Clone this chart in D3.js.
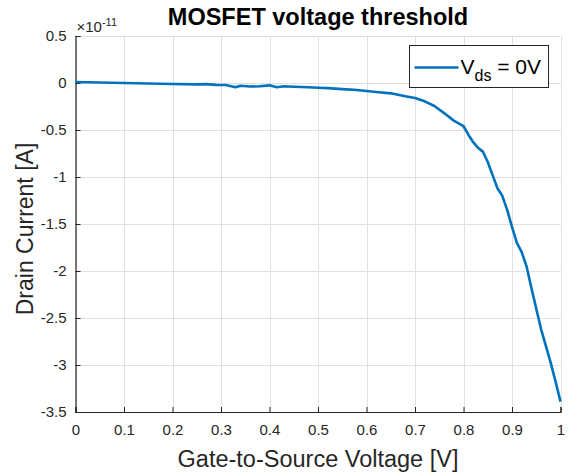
<!DOCTYPE html>
<html>
<head>
<meta charset="utf-8">
<script src="https://cdn.jsdelivr.net/npm/d3@7"></script>
<style>
  body { margin: 0; background: #fff; }
  svg { font-family: "Liberation Sans", Arial, Helvetica, sans-serif; }
</style>
</head>
<body>
<div id="chart"></div>
<script>
// gate-source voltage [V]
const vgs = [0, 0.05, 0.1, 0.15, 0.2, 0.25, 0.27, 0.29, 0.31, 0.33, 0.34, 0.36, 0.38, 0.40, 0.415,
  0.43, 0.45, 0.48, 0.5, 0.52, 0.55, 0.58, 0.6, 0.62, 0.65, 0.68, 0.7, 0.72, 0.74, 0.76, 0.78,
  0.8, 0.81, 0.82, 0.83, 0.84, 0.85, 0.86, 0.87, 0.88, 0.89, 0.9, 0.91, 0.92, 0.93, 0.94, 0.95,
  0.96, 0.97, 0.98, 0.99, 1.0];
// drain current, in units of 1e-11 A
const idrain = [0.01, 0.005, 0.0, -0.005, -0.01, -0.015, -0.012, -0.02, -0.022, -0.045, -0.03, -0.038,
  -0.035, -0.025, -0.045, -0.035, -0.04, -0.045, -0.05, -0.055, -0.065, -0.075, -0.085, -0.095, -0.11,
  -0.14, -0.16, -0.195, -0.245, -0.32, -0.4, -0.46, -0.55, -0.63, -0.69, -0.73, -0.84, -0.98, -1.12,
  -1.2, -1.35, -1.53, -1.7, -1.8, -1.95, -2.18, -2.4, -2.62, -2.8, -2.98, -3.18, -3.39];

const xTicks = [0, 0.1, 0.2, 0.3, 0.4, 0.5, 0.6, 0.7, 0.8, 0.9, 1];
const yTicks = [0.5, 0, -0.5, -1, -1.5, -2, -2.5, -3, -3.5];

const width = 568, height = 473;
const margins = { top: 36, bottom: 61, left: 75.5, right: 7.5 };

const svg = d3.select("#chart").append("svg")
  .attr("width", width)
  .attr("height", height);

const x = d3.scaleLinear().domain([0, 1]).range([margins.left, width - margins.right]);
const y = d3.scaleLinear().domain([-3.5, 0.5]).range([height - margins.bottom, margins.top]);

const axisColor = "#262626";
const plainNum = d => String(d);   // MATLAB uses a hyphen, not the unicode minus

// grid
const grid = svg.append("g").attr("stroke", "#e0e0e0").attr("stroke-width", 1);
xTicks.forEach(t => {
  grid.append("line")
    .attr("x1", Math.round(x(t)) + 0.5).attr("x2", Math.round(x(t)) + 0.5)
    .attr("y1", y(0.5)).attr("y2", y(-3.5));
});
yTicks.forEach(t => {
  grid.append("line")
    .attr("x1", x(0)).attr("x2", x(1))
    .attr("y1", Math.round(y(t)) + 0.5).attr("y2", Math.round(y(t)) + 0.5);
});

// axes (ticks inward, like MATLAB)
const xAxis = svg.append("g")
  .attr("transform", `translate(0,${y(-3.5)})`)
  .call(d3.axisBottom(x).tickValues(xTicks).tickSize(-5).tickPadding(12).tickFormat(plainNum));
const yAxis = svg.append("g")
  .attr("transform", `translate(${x(0)},0)`)
  .call(d3.axisLeft(y).tickValues(yTicks).tickSize(-5).tickPadding(9).tickFormat(plainNum));

[xAxis, yAxis].forEach(a => {
  a.select(".domain").attr("stroke", axisColor).attr("stroke-width", 1.2);
  a.selectAll(".tick line").attr("stroke", axisColor);
  a.selectAll(".tick text")
    .attr("fill", axisColor)
    .style("font-size", "15px")
    .style("font-family", "'Liberation Sans', Arial, sans-serif");
});
yAxis.selectAll(".tick text").attr("dy", "0.32em");

// exponent label
const expo = svg.append("text")
  .attr("x", x(0) + 1)
  .attr("y", y(0.5) - 4)
  .attr("fill", axisColor)
  .style("font-size", "15px");
expo.append("tspan").text("\u00d710");
expo.append("tspan").attr("dy", -6).style("font-size", "11px").text("-11");

// curve
const line = d3.line()
  .x((d, i) => x(vgs[i]))
  .y(d => y(d));

svg.append("path")
  .datum(idrain)
  .attr("fill", "none")
  .attr("stroke", "#0072BD")
  .attr("stroke-width", 2.6)
  .attr("stroke-linejoin", "round")
  .attr("d", line);

// title
svg.append("text")
  .attr("x", (x(0) + x(1)) / 2)
  .attr("y", 25)
  .attr("text-anchor", "middle")
  .attr("fill", "#000")
  .style("font-size", "23.5px")
  .style("font-weight", "bold")
  .text("MOSFET voltage threshold");

// axis labels
svg.append("text")
  .attr("x", (x(0) + x(1)) / 2)
  .attr("y", 467)
  .attr("text-anchor", "middle")
  .attr("fill", axisColor)
  .style("font-size", "23.5px")
  .text("Gate-to-Source Voltage [V]");

svg.append("text")
  .attr("transform", `translate(33,${(y(0.5) + y(-3.5)) / 2 + 5}) rotate(-90)`)
  .attr("text-anchor", "middle")
  .attr("fill", axisColor)
  .style("font-size", "23px")
  .text("Drain Current [A]");

// legend
const legend = svg.append("g").attr("transform", "translate(409.5,45.5)");
legend.append("rect")
  .attr("width", 139)
  .attr("height", 42)
  .attr("fill", "#fff")
  .attr("stroke", axisColor)
  .attr("stroke-width", 1);
legend.append("line")
  .attr("x1", 5).attr("x2", 49)
  .attr("y1", 22).attr("y2", 22)
  .attr("stroke", "#0072BD")
  .attr("stroke-width", 2.6);
const lt = legend.append("text")
  .attr("x", 51)
  .attr("y", 28)
  .attr("fill", "#000")
  .style("font-size", "21px");
lt.append("tspan").text("V");
lt.append("tspan").attr("dy", 7).style("font-size", "16px").text("ds");
lt.append("tspan").attr("dy", -7).text(" = 0V");
</script>
</body>
</html>
